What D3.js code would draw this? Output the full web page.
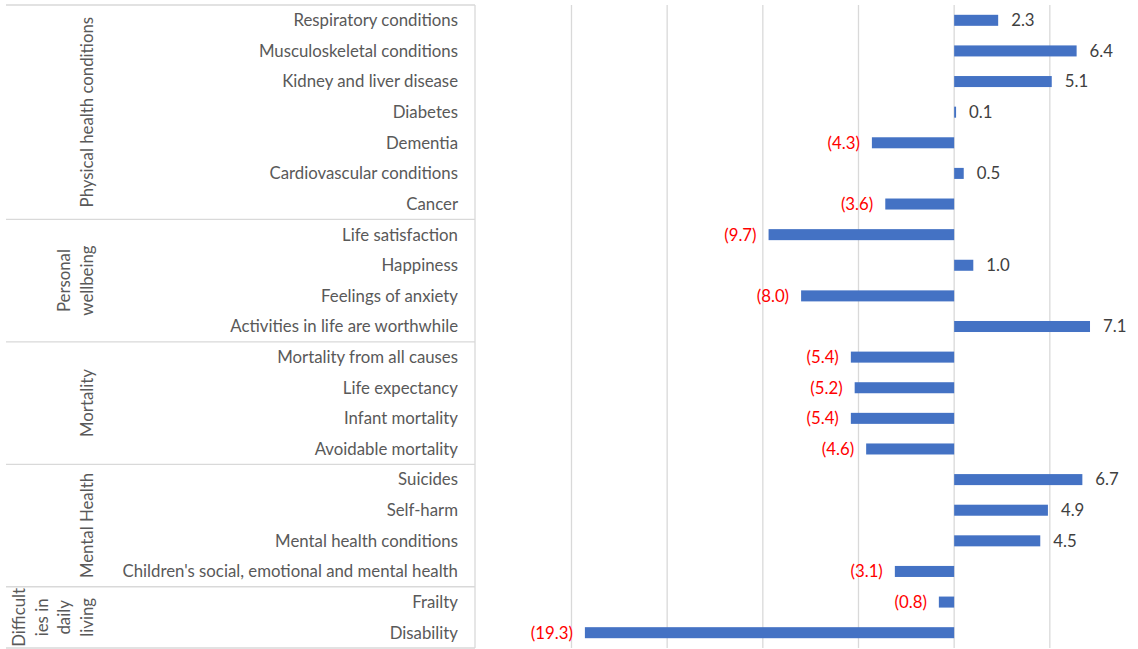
<!DOCTYPE html>
<html>
<head>
<meta charset="utf-8">
<script src="https://cdn.jsdelivr.net/npm/d3@7"></script>
<style>
  body { margin: 0; background: #fff; }
  svg { display: block; font-family: Lato, "Open Sans", sans-serif; }
</style>
</head>
<body>
<svg id="chart" width="1138" height="649"></svg>
<script>
// categories top to bottom, with their group
const categories = [
    "Respiratory conditions", "Musculoskeletal conditions", "Kidney and liver disease",
    "Diabetes", "Dementia", "Cardiovascular conditions", "Cancer",
    "Life satisfaction", "Happiness", "Feelings of anxiety", "Activities in life are worthwhile",
    "Mortality from all causes", "Life expectancy ", "Infant mortality", "Avoidable mortality",
    "Suicides", "Self-harm", "Mental health conditions", "Children's social, emotional and mental health",
    "Frailty", "Disability"
];
const values = [2.3, 6.4, 5.1, 0.1, -4.3, 0.5, -3.6,
    -9.7, 1.0, -8.0, 7.1,
    -5.4, -5.2, -5.4, -4.6,
    6.7, 4.9, 4.5, -3.1,
    -0.8, -19.3];
const groups = [
    { name: ["Physical health conditions"], size: 7 },
    { name: ["Personal", "wellbeing"], size: 4 },
    { name: ["Mortality"], size: 4 },
    { name: ["Mental Health"], size: 4 },
    { name: ["Difficult", "ies in", "daily", "living"], size: 2 }
];
const xTicks = [-20, -15, -10, -5, 0, 5, 10];

let svg = d3.select('#chart'),
    plotTop = 5,
    plotBottom = 648,
    axisLeft = 6,
    axisRight = 475,
    fontSize = '16.8px';

let x = d3.scaleLinear().domain([-20, 10]).range([571.5, 1145.5]);
// outer padding = half the inner padding, so each row owns exactly one step
let y = d3.scaleBand().domain(categories).range([plotTop, plotBottom]).paddingInner(0.64).paddingOuter(0.32);

// gridlines
svg.append('g')
    .selectAll('line')
    .data(xTicks)
    .enter().append('line')
    .attr('x1', d => x(d)).attr('x2', d => x(d))
    .attr('y1', plotTop).attr('y2', plotBottom)
    .attr('stroke', '#d9d9d9')
    .attr('stroke-width', 1.3);

// bars
svg.append('g')
    .selectAll('rect')
    .data(values)
    .enter().append('rect')
    .attr('x', d => x(Math.min(0, d)))
    .attr('width', d => Math.abs(x(d) - x(0)))
    .attr('y', (d, i) => y(categories[i]))
    .attr('height', y.bandwidth())
    .attr('fill', '#4472c4');

// value labels
svg.append('g')
    .selectAll('text')
    .data(values)
    .enter().append('text')
    .attr('x', d => d < 0 ? x(d) - 12 : x(d) + 13)
    .attr('y', (d, i) => y(categories[i]) + y.bandwidth() / 2)
    .attr('dy', '0.35em')
    .attr('text-anchor', d => d < 0 ? 'end' : 'start')
    .attr('fill', d => d < 0 ? '#ff0000' : '#404040')
    .style('font-size', fontSize)
    .text(d => d < 0 ? '(' + d3.format('.1f')(-d) + ')' : d3.format('.1f')(d));

// category labels
svg.append('g')
    .selectAll('text')
    .data(categories)
    .enter().append('text')
    .attr('x', 458)
    .attr('y', d => y(d) + y.bandwidth() / 2)
    .attr('dy', '0.35em')
    .attr('text-anchor', 'end')
    .attr('fill', '#595959')
    .style('font-size', fontSize)
    .text(d => d);

// category axis frame and group separators
let step = y.step();
let idx = 0;
let bounds = [plotTop];
groups.forEach(g => {
    idx += g.size;
    bounds.push(plotTop + idx * step);
});

let axis = svg.append('g');
axis.selectAll('line.sep')
    .data(bounds)
    .enter().append('line')
    .attr('class', 'sep')
    .attr('x1', axisLeft).attr('x2', axisRight)
    .attr('y1', d => d).attr('y2', d => d)
    .attr('stroke', '#d9d9d9')
    .attr('stroke-width', 1.3);
axis.append('line')
    .attr('x1', axisRight).attr('x2', axisRight)
    .attr('y1', plotTop).attr('y2', plotBottom)
    .attr('stroke', '#d9d9d9')
    .attr('stroke-width', 1.3);

// group labels, rotated
groups.forEach((g, gi) => {
    let cy = (bounds[gi] + bounds[gi + 1]) / 2;
    let n = g.name.length;
    g.name.forEach((line, li) => {
        let cx = 87 - (n - 1 - li) * 22.5;
        svg.append('text')
            .attr('transform', 'translate(' + cx + ',' + cy + ') rotate(-90)')
            .attr('text-anchor', 'middle')
            .attr('dy', '0.35em')
            .attr('fill', '#595959')
            .style('font-size', fontSize)
            .text(line);
    });
});
</script>
</body>
</html>
